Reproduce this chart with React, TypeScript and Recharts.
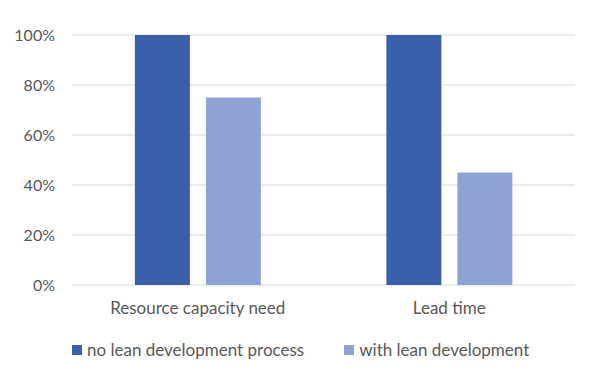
import React from "react";
import { BarChart, Bar, XAxis, YAxis, CartesianGrid, Legend } from "recharts";

const categories = ["Resource capacity need", "Lead time"];
const noLean = [100, 100];
const withLean = [75, 45];
const yTicks = [0, 20, 40, 60, 80, 100];
const seriesNames = ["no lean development process", "with lean development"];
const colors = ["#3A5FAB", "#8FA3D3"];

const data = categories.map((c, i) => ({ name: c, noLean: noLean[i], withLean: withLean[i] }));

const FONT = "Lato, 'Open Sans', sans-serif";

const LegendContent = () => (
  <div style={{ display: "flex", justifyContent: "flex-start", paddingLeft: 72, fontFamily: FONT, fontSize: 17, color: "#595959", height: 20, lineHeight: "20px" }}>
    {seriesNames.map((n, i) => (
      <div key={n} style={{ display: "flex", alignItems: "center", marginRight: 40 }}>
        <span style={{ display: "inline-block", width: 10, height: 10, background: colors[i], marginRight: 5 }} />
        <span>{n}</span>
      </div>
    ))}
  </div>
);

export default function App() {
  return (
    <div style={{ position: "absolute", left: 0, top: 0, background: "#fff" }}>
      <BarChart
        width={600}
        height={381}
        data={data}
        margin={{ top: 35, right: 25, left: 0, bottom: 21 }}
        barCategoryGap="25%"
        barGap={16}
      >
        <CartesianGrid vertical={false} stroke="#d9d9d9" strokeWidth={1} />
        <XAxis
          dataKey="name"
          axisLine={false}
          tickLine={false}
          tickMargin={11}
          height={55}
          tick={{ fill: "#595959", fontSize: 17, fontFamily: FONT }}
        />
        <YAxis
          width={72}
          domain={[0, 100]}
          ticks={yTicks}
          axisLine={false}
          tickLine={false}
          tickMargin={11}
          tickFormatter={(v: number) => `${v}%`}
          tick={{ fill: "#595959", fontSize: 16, fontFamily: FONT }}
        />
        <Legend verticalAlign="bottom" height={20} content={<LegendContent />} />
        <Bar dataKey="noLean" name={seriesNames[0]} fill={colors[0]} isAnimationActive={false} />
        <Bar dataKey="withLean" name={seriesNames[1]} fill={colors[1]} isAnimationActive={false} />
      </BarChart>
    </div>
  );
}
